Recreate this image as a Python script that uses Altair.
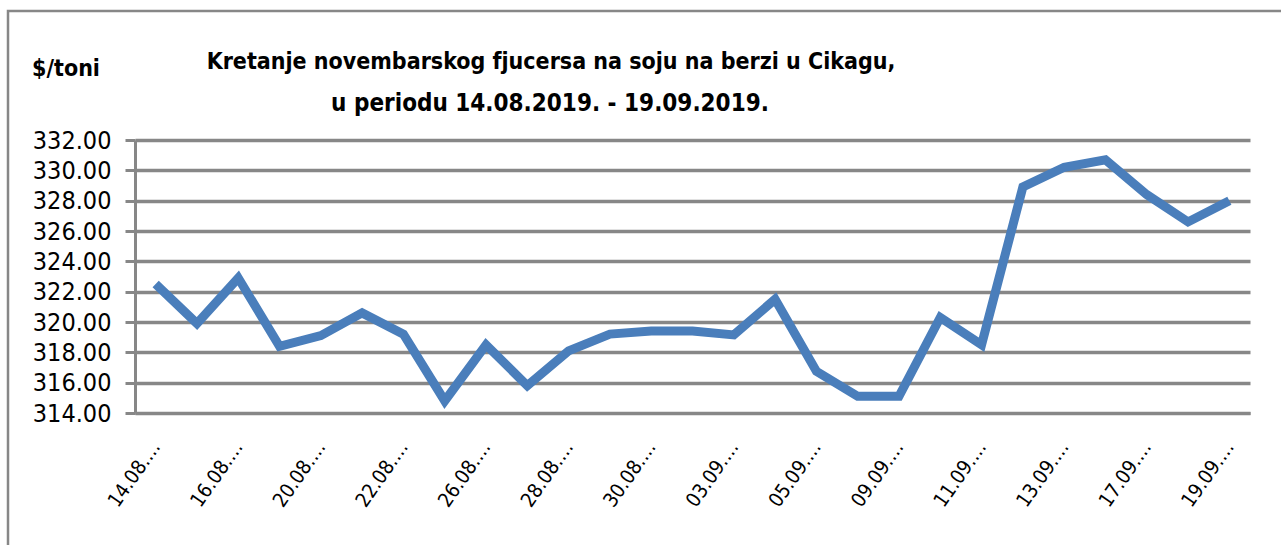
import altair as alt
import pandas as pd

dates = [
    "14.08.2019.", "15.08.2019.", "16.08.2019.", "19.08.2019.", "20.08.2019.",
    "21.08.2019.", "22.08.2019.", "23.08.2019.", "26.08.2019.", "27.08.2019.",
    "28.08.2019.", "29.08.2019.", "30.08.2019.", "02.09.2019.", "03.09.2019.",
    "04.09.2019.", "05.09.2019.", "06.09.2019.", "09.09.2019.", "10.09.2019.",
    "11.09.2019.", "12.09.2019.", "13.09.2019.", "16.09.2019.", "17.09.2019.",
    "18.09.2019.", "19.09.2019.",
]
prices = [
    322.5, 319.9, 322.9, 318.4, 319.1,
    320.6, 319.2, 314.8, 318.5, 315.8,
    318.1, 319.2, 319.4, 319.4, 319.15,
    321.5, 316.75, 315.1, 315.1, 320.3,
    318.5, 328.9, 330.2, 330.7, 328.4,
    326.6, 328.0,
]
title_lines = [
    "Kretanje novembarskog  fjucersa na soju na berzi u Cikagu,",
    "u periodu  14.08.2019. - 19.09.2019.",
]
unit_label = "$/toni"

FONT = "DejaVu Sans Condensed, sans-serif"
GRAY = "#878787"
W, H = 1115, 273

df = pd.DataFrame({"date": dates, "price": prices})
tdf = pd.DataFrame({"t1": [title_lines[0]], "t2": [title_lines[1]], "u": [unit_label]})

line = alt.Chart(df).mark_line(color="#4A7EBB", strokeWidth=9, strokeJoin="miter").encode(
    x=alt.X(
        "date:N",
        sort=dates,
        scale=alt.Scale(type="point", padding=0.5),
        axis=alt.Axis(
            title=None,
            values=dates[::2],
            labelExpr="slice(datum.label, 0, 6) + '…'",
            labelAngle=-55,
            labelAlign="right",
            labelBaseline="middle",
            labelPadding=30,
            labelFontSize=20,
            labelFont=FONT,
            labelColor="black",
            ticks=False,
            domainColor=GRAY,
            domainWidth=3,
            grid=False,
        ),
    ),
    y=alt.Y(
        "price:Q",
        scale=alt.Scale(domain=[314, 332], nice=False, zero=False),
        axis=alt.Axis(
            title=None,
            values=list(range(314, 333, 2)),
            format=".2f",
            labelFontSize=25,
            labelFont=FONT,
            labelColor="black",
            labelPadding=14,
            tickSize=10,
            tickWidth=3,
            tickColor=GRAY,
            domainColor=GRAY,
            domainWidth=3,
            grid=True,
            gridColor=GRAY,
            gridWidth=3.5,
        ),
    ),
)

base_t = alt.Chart(tdf)
t1 = base_t.mark_text(font=FONT, fontSize=23, fontWeight="bold", align="center", baseline="middle", color="black").encode(
    text="t1:N", x=alt.value(416), y=alt.value(-78)
)
t2 = base_t.mark_text(font=FONT, fontSize=24, fontWeight="bold", align="center", baseline="middle", color="black").encode(
    text="t2:N", x=alt.value(415), y=alt.value(-36)
)
tu = base_t.mark_text(font=FONT, fontSize=23, fontWeight="bold", align="center", baseline="middle", color="black").encode(
    text="u:N", x=alt.value(-69), y=alt.value(-71)
)
border = base_t.mark_rect(fill=None, stroke=GRAY, strokeWidth=2.5).encode(
    x=alt.value(-127), x2=alt.value(W + 60), y=alt.value(-129), y2=alt.value(H + 200)
)

chart = alt.layer(border, line, t1, t2, tu).properties(
    width=W,
    height=H,
    autosize=alt.AutoSizeParams(type="none"),
    padding={"left": 135, "top": 140, "right": 31, "bottom": 132},
    background="white",
).configure_view(stroke=None)

chart.save("out.html", embed_options={"renderer": "svg", "actions": False})
